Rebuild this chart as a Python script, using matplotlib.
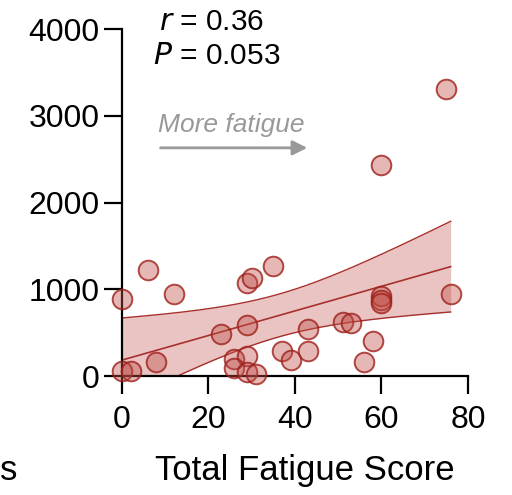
import numpy as np
import matplotlib
matplotlib.use('Agg')
import matplotlib.pyplot as plt

plt.rcParams['font.family'] = ['Liberation Sans', 'DejaVu Sans']

# 數據
fatigue = [0, 6, 12, 0, 2, 8, 23, 29, 29, 30, 35, 26, 29, 26, 29, 31,
           37, 39, 43, 43, 51, 53, 58, 56, 60, 60, 60, 76, 75, 60]
values = [884, 1222, 941, 61, 61, 165, 481, 588, 1068, 1126, 1268, 192, 230, 88,
          50, 23, 288, 184, 542, 288, 626, 615, 407, 165, 922, 876, 841,
          945, 3308, 2432]
x_ticks = [0, 20, 40, 60, 80]
y_ticks = [0, 1000, 2000, 3000, 4000]

x = np.array(fatigue, dtype=float)
y = np.array(values, dtype=float)

# 線性迴歸與95%信賴區間
slope, intercept = np.polyfit(x, y, 1)
n = len(x)
resid = y - (slope * x + intercept)
s_err = np.sqrt(np.sum(resid ** 2) / (n - 2))
t_crit = 2.048
xs = np.linspace(x.min(), x.max(), 200)
ys = slope * xs + intercept
half = t_crit * s_err * np.sqrt(1 / n + (xs - x.mean()) ** 2 / np.sum((x - x.mean()) ** 2))

fig = plt.figure(figsize=(5.12, 4.95), dpi=100)
ax = fig.add_axes([0.238, 0.2404, 0.676, 0.701])

red = '#a8302c'
ax.fill_between(xs, ys - half, ys + half, color='#e9c4c3', lw=0, zorder=1)
ax.plot(xs, ys + half, color=red, lw=1)
ax.plot(xs, ys - half, color=red, lw=1)
ax.plot(xs, ys, color=red, lw=1.2)
ax.scatter(x, y, s=200, facecolor=(0.75, 0.3, 0.28, 0.4), edgecolor=(0.62, 0.12, 0.1, 0.8),
           linewidth=1.4, zorder=3, clip_on=False)

ax.set_xlim(0, 80)
ax.set_ylim(0, 4000)
ax.set_xticks(x_ticks)
ax.set_yticks(y_ticks)
for side in ['top', 'right']:
    ax.spines[side].set_visible(False)
for side in ['left', 'bottom']:
    ax.spines[side].set_linewidth(1.6)
ax.tick_params(length=13, width=1.6, labelsize=23)
ax.tick_params(axis='x', pad=8)
ax.tick_params(axis='y', pad=3)
ax.set_xlabel('Total Fatigue Score', fontsize=25)
ax.xaxis.set_label_coords(0.53, -0.226)

ax.text(0.258, 1.02, r'$\it{r}$ = 0.36', transform=ax.transAxes, fontsize=21.5, ha='center', va='center')
ax.text(0.275, 0.922, r'$\it{P}$ = 0.053', transform=ax.transAxes, fontsize=21.5, ha='center', va='center')

ax.text(8.3, 2890, 'More fatigue', color='#999999', fontsize=19, style='italic', va='center')
ax.annotate('', xy=(43.5, 2630), xytext=(8.3, 2630),
            arrowprops=dict(arrowstyle='-|>', color='#999999', lw=2, mutation_scale=22))

fig.text(0.0, 0.05, 's', fontsize=25, ha='left', va='center')

plt.savefig('out.png', dpi=100)
